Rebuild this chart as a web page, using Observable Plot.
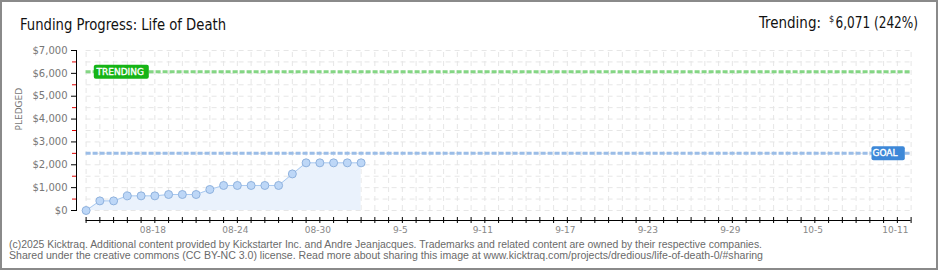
<!DOCTYPE html>
<html><head><meta charset="utf-8">
<script src="https://cdn.jsdelivr.net/npm/d3@7"></script>
<script src="https://cdn.jsdelivr.net/npm/@observablehq/plot@0.6"></script>
<style>
html,body{margin:0;padding:0;background:#fff;}
#card{position:relative;width:940px;height:270px;overflow:hidden;background:#fff;}
#border{position:absolute;left:0;top:0;width:938px;height:270px;box-sizing:border-box;border:2px solid #8a8a8a;pointer-events:none;}
#chart{position:absolute;left:0;top:40px;width:940px;height:200px;}
#overlay{position:absolute;left:0;top:0;}
</style></head><body>
<div id="card">
  <div id="chart"></div>
  <svg id="overlay" width="940" height="270" xmlns="http://www.w3.org/2000/svg">
    <text x="20" y="30" font-family="'Liberation Sans Narrow','DejaVu Sans Condensed',Roboto,sans-serif" font-size="16" fill="#111" textLength="206" lengthAdjust="spacingAndGlyphs">Funding Progress: Life of Death</text>
    <text id="trendLabel" x="759" y="27.5" font-family="'Liberation Sans Narrow','DejaVu Sans Condensed',Roboto,sans-serif" font-size="16" fill="#111" textLength="62" lengthAdjust="spacingAndGlyphs">Trending:</text>
    <text id="trendDollar" x="829" y="22" font-family="'Liberation Sans Narrow','DejaVu Sans Condensed',Roboto,sans-serif" font-size="9" fill="#111">$</text>
    <text id="trendValue" x="835.5" y="27.5" font-family="'Liberation Sans Narrow','DejaVu Sans Condensed',Roboto,sans-serif" font-size="16" fill="#111" textLength="82.5" lengthAdjust="spacingAndGlyphs"></text>
    <text x="9" y="248" font-family="'Liberation Sans',sans-serif" font-size="10" fill="#6a6a6a" textLength="753" lengthAdjust="spacingAndGlyphs">(c)2025 Kicktraq. Additional content provided by Kickstarter Inc. and Andre Jeanjacques. Trademarks and related content are owned by their respective companies.</text>
    <text x="9" y="258.5" font-family="'Liberation Sans',sans-serif" font-size="10" fill="#6a6a6a" textLength="754" lengthAdjust="spacingAndGlyphs">Shared under the creative commons (CC BY-NC 3.0) license. Read more about sharing this image at www.kicktraq.com/projects/dredious/life-of-death-0/#sharing</text>
  </svg>
  <div id="border"></div>
</div>
<script>
// ---- data ----
const dates = ["2025-08-13","2025-08-14","2025-08-15","2025-08-16","2025-08-17","2025-08-18","2025-08-19",
  "2025-08-20","2025-08-21","2025-08-22","2025-08-23","2025-08-24","2025-08-25","2025-08-26","2025-08-27",
  "2025-08-28","2025-08-29","2025-08-30","2025-08-31","2025-09-01","2025-09-02"];
const pledged = [0, 420, 420, 640, 640, 640, 700, 700, 700, 920, 1095, 1095, 1095, 1095, 1095, 1600, 2085, 2085, 2085, 2085, 2085];
const goal = 2500;
const trending = 6071;
const trendPct = 242;
const axisStart = "2025-08-13";
const axisEnd = "2025-10-12";
const labelDates = ["2025-08-18","2025-08-24","2025-08-30","2025-09-05","2025-09-11","2025-09-17","2025-09-23","2025-09-29","2025-10-05","2025-10-11"];
const labelTexts = ["08-18","08-24","08-30","9-5","9-11","9-17","9-23","9-29","10-5","10-11"];
const yTicks = [0,1000,2000,3000,4000,5000,6000,7000];
const yMinorTicks = [500,1500,2500,3500,4500,5500,6500];
const yGrid = [0,500,1000,1500,2000,2500,3000,3500,4000,4500,5000,5500,6000,6500,7000];

// ---- build ----
const data = dates.map((d, i) => ({date: new Date(d), pledged: pledged[i]}));
const start = new Date(axisStart), end = new Date(axisEnd);
const days = d3.utcDay.range(start, d3.utcDay.offset(end, 1));
const labelMap = new Map(labelDates.map((d, i) => [+new Date(d), labelTexts[i]]));
const fmt = d3.format(",");

document.getElementById("trendValue").textContent = `${fmt(trending)} (${trendPct}%)`;

// rounded box symbol for the TRENDING / GOAL tags
function boxSymbol(x0, w, h, rr) {
  return {draw(ctx) {
    const y0 = -h / 2, x1 = x0 + w, y1 = h / 2;
    ctx.moveTo(x0 + rr, y0);
    ctx.lineTo(x1 - rr, y0); ctx.arcTo(x1, y0, x1, y0 + rr, rr);
    ctx.lineTo(x1, y1 - rr); ctx.arcTo(x1, y1, x1 - rr, y1, rr);
    ctx.lineTo(x0 + rr, y1); ctx.arcTo(x0, y1, x0, y1 - rr, rr);
    ctx.lineTo(x0, y0 + rr); ctx.arcTo(x0, y0, x0 + rr, y0, rr);
    ctx.closePath();
  }};
}

const gridStyle = {stroke: "#e6e6e6", strokeWidth: 1, strokeDasharray: "5,4"};

const svg = Plot.plot({
  width: 940, height: 200,
  marginLeft: 76, marginRight: 29, marginTop: 10, marginBottom: 30,
  x: {type: "utc", domain: [start, end], range: [85.6, 910.6]},
  y: {domain: [yTicks[0], yTicks[yTicks.length - 1]]},
  style: {fontFamily: "'DejaVu Sans', sans-serif", background: "transparent", overflow: "visible"},
  marks: [
    Plot.ruleX(days, {x: d => d, y1: yTicks[0], y2: yTicks[yTicks.length - 1], ...gridStyle}),
    Plot.ruleY(yGrid, {y: d => d, x1: start, x2: end, ...gridStyle}),
    Plot.areaY(data, {x: "date", y: "pledged", fill: "#eaf2fc"}),
    Plot.ruleY([trending], {y: d => d, x1: start, x2: end, stroke: "#84d684", strokeWidth: 3, strokeDasharray: "5,2"}),
    Plot.ruleY([goal], {y: d => d, x1: start, x2: end, stroke: "#9bbde7", strokeWidth: 3, strokeDasharray: "5,2"}),
    Plot.line(data, {x: "date", y: "pledged", stroke: "#a9c9f0", strokeWidth: 1}),
    Plot.dot(data, {x: "date", y: "pledged", r: 4, fill: "#bdd7f7", stroke: "#8fb2de", strokeWidth: 1}),
    Plot.dot([trending], {y: d => d, frameAnchor: "left", dx: 17.3, symbol: boxSymbol(0, 55, 14, 2), fill: "#16b416", stroke: "none"}),
    Plot.text([trending], {y: d => d, text: () => "TRENDING", frameAnchor: "left", dx: 20, textAnchor: "start", fill: "#fff", stroke: "#fff", strokeWidth: 0.35, fontSize: 9, letterSpacing: 0.2}),
    Plot.dot([goal], {y: d => d, frameAnchor: "right", dx: -6.7, symbol: boxSymbol(-33.3, 33.3, 14, 2), fill: "#3d88d8", stroke: "none"}),
    Plot.text([goal], {y: d => d, text: () => "GOAL", frameAnchor: "right", dx: -14, textAnchor: "end", fill: "#fff", stroke: "#fff", strokeWidth: 0.35, fontSize: 9, letterSpacing: 0.2}),
    Plot.frame({anchor: "left", stroke: "#000"}),
    Plot.axisY({ticks: yMinorTicks, tickSize: 4, tickFormat: () => "", stroke: "#e00000", label: null}),
    Plot.axisY({ticks: yTicks, tickSize: 5, tickPadding: 4, tickFormat: d => "$" + fmt(d), fill: "#777", stroke: "#000", fontSize: 10, label: null}),
    Plot.ruleY([yTicks[0]], {y: d => d, x1: start, x2: end, dy: 10, stroke: "#000"}),
    Plot.axisX({ticks: days, tickSize: 6, tickFormat: () => "", dy: 7, stroke: "#000", label: null}),
    Plot.axisX({ticks: labelDates.map(d => new Date(d)), tickSize: 0, tickPadding: 16.5, tickFormat: d => labelMap.get(+d), fill: "#888", fontSize: 9, dx: -2, label: null}),
    Plot.text(["PLEDGED"], {text: d => d, frameAnchor: "left", dx: -57, rotate: -90, fill: "#777", fontSize: 9, letterSpacing: 0.3})
  ]
});
document.getElementById("chart").append(svg);
</script>
</body></html>
